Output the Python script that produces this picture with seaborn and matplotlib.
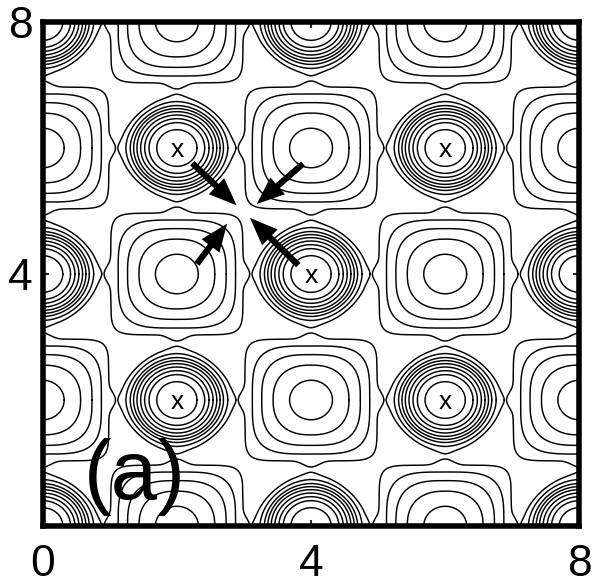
import numpy as np
import matplotlib
matplotlib.use('Agg')
import matplotlib.pyplot as plt
import seaborn as sns

# Centres of the two kinds of contour families
peak_x = [0, 4, 8, 2, 6, 0, 4, 8, 2, 6, 0, 4, 8]
peak_y = [0, 0, 0, 2, 2, 4, 4, 4, 6, 6, 8, 8, 8]
well_x = [2, 6, 0, 4, 8, 2, 6, 0, 4, 8, 2, 6]
well_y = [0, 0, 2, 2, 2, 4, 4, 6, 6, 6, 8, 8]

# Ring half widths, with squareness and size of the tip on the axes
peak_radii = [0.30, 0.415, 0.48, 0.54, 0.595, 0.645, 0.695, 0.76, 0.85]
peak_shape = [2.0, 2.0, 2.0, 2.0, 2.0, 1.95, 1.9, 1.85, 1.7]
peak_tips = [0, 0, 0, 0, 0, 0, 0, 0, 0.03]
well_radii = [0.32, 0.565, 0.735, 0.875, 0.985]
well_shape = [2.0, 2.4, 3.0, 3.8, 8.0]
well_tips = [0, 0, 0, 0, 0.10]

# The x marks
mark_x = [2, 6, 4, 2, 6]
mark_y = [6, 6, 4, 2, 2]

# The arrows, tail and tip
arrow_tail_x = [2.23, 3.88, 3.81, 2.30]
arrow_tail_y = [5.76, 5.75, 4.14, 4.16]
arrow_tip_x = [2.89, 3.19, 3.09, 2.75]
arrow_tip_y = [5.09, 5.11, 4.89, 4.80]

x_tick_values = [0, 4, 8]
x_tick_labels = ['0', '4', '8']
y_tick_values = [0, 4, 8]
y_tick_labels = ['', '4', '8']

sns.set_style('white')
plt.rcParams['font.family'] = ['Liberation Sans', 'DejaVu Sans']

fig = plt.figure(figsize=(5.93, 5.88), dpi=100)
ax = fig.add_axes([0.072, 0.1054, 0.905, 0.8572])

theta = np.linspace(0, 2 * np.pi, 721)


def draw_rings(cx, cy, radii, shape, tips, tip_power, squash):
    for r, n, tip in zip(radii, shape, tips):
        rr = r * (np.abs(np.cos(theta))**n + np.abs(np.sin(theta))**n)**(-1 / n)
        rr = rr + tip * np.abs(np.cos(2 * theta))**tip_power
        sns.lineplot(x=cx + rr * np.cos(theta), y=cy + squash * rr * np.sin(theta), sort=False,
                     estimator=None, color='black', linewidth=1.05, ax=ax, legend=False)


for cx, cy in zip(peak_x, peak_y):
    draw_rings(cx, cy, peak_radii, peak_shape, peak_tips, 30, 0.97)
for cx, cy in zip(well_x, well_y):
    draw_rings(cx, cy, well_radii, well_shape, well_tips, 20, 0.98)

for x, y in zip(mark_x, mark_y):
    ax.text(x, y - 0.03, 'x', fontsize=19, ha='center', va='center', color='black')

for x0, y0, x1, y1 in zip(arrow_tail_x, arrow_tail_y, arrow_tip_x, arrow_tip_y):
    ax.annotate('', xy=(x1, y1), xytext=(x0, y0),
                arrowprops=dict(width=4.5, headwidth=16, headlength=20, color='black', shrink=0, lw=0))

ax.text(0.62, 0.43, '(a)', fontsize=60, color='black', ha='left', va='baseline')

ax.set_xlim(0, 8)
ax.set_ylim(0, 8)
ax.set_xticks(x_tick_values)
ax.set_xticklabels(x_tick_labels)
ax.set_yticks(y_tick_values)
ax.set_yticklabels(y_tick_labels)
ax.set_xlabel('')
ax.set_ylabel('')
ax.tick_params(axis='x', which='major', direction='in', length=4, width=1.5, labelsize=32,
               pad=13, top=True, bottom=True, labelcolor='black')
ax.tick_params(axis='y', which='major', direction='in', length=4, width=1.5, labelsize=32,
               pad=7, left=True, right=True, labelcolor='black')
for side in ax.spines:
    ax.spines[side].set_linewidth(4)
    ax.spines[side].set_color('black')
    ax.spines[side].set_visible(True)

fig.savefig('out.png', dpi=100, facecolor='white')
